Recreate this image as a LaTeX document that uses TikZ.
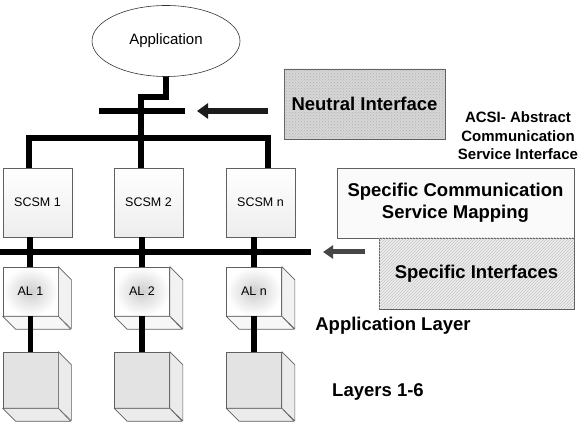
\documentclass[tikz,border=0pt]{standalone}
\usepackage{fontspec}
\setmainfont{Liberation Sans}
\usetikzlibrary{arrows.meta,shapes.geometric,patterns}
\begin{document}
\begin{tikzpicture}[x=1pt,y=-1pt,
  bus/.style={line width=5.5pt, line join=miter},
  box/.style={draw=gray!75!black, line width=0.6pt, inner sep=0pt},
  face/.style={draw=gray!75!black, line width=0.6pt, line join=round},
  fatarrow/.style={line width=6pt, -{Triangle[width=15pt,length=11pt]}},
  lbl/.style={font=\bfseries\fontsize{18.5}{22}\selectfont, align=center},
  jdot/.style={circle, fill=black, inner sep=0pt, minimum size=9pt}]
\useasboundingbox (0,0) rectangle (579,438);

% application
\node[ellipse, draw=gray!40!black, line width=0.6pt, minimum width=148pt, minimum height=71pt,
      font=\fontsize{15}{18}\selectfont] (app) at (166,41) {Application};

% SCSM boxes
\foreach \i/\cx/\t in {1/37.5/1, 2/148.5/2, 3/260.5/n} {
  \node[box, minimum width=69pt, minimum height=69pt, top color=white, bottom color=gray!14,
        font=\fontsize{12.5}{15}\selectfont] (scsm\i) at (\cx,202.5) {SCSM \t};
}

% AL cubes
\foreach \i/\cx/\t in {1/30.5/1, 2/142/2, 3/254/n} {
  \node[box, minimum width=55pt, minimum height=49pt, inner color=gray!38, outer color=white,
        font=\fontsize{12.5}{15}\selectfont] (al\i) at (\cx,291.5) {AL \t};
  \filldraw[face, fill=gray!10] (al\i.north east) -- ++(13,13) -- ++(0,49) -- (al\i.south east) -- cycle;
  \filldraw[face, fill=gray!6] (al\i.south west) -- ++(13,13) -- ++(55,0) -- (al\i.south east) -- cycle;
}

% lower cubes
\foreach \i/\cx in {1/30.5, 2/142, 3/254} {
  \node[box, minimum width=55pt, minimum height=56pt, fill=gray!22] (low\i) at (\cx,380) {};
  \filldraw[face, fill=gray!16] (low\i.north east) -- ++(13,13) -- ++(0,56) -- (low\i.south east) -- cycle;
  \filldraw[face, fill=gray!16] (low\i.south west) -- ++(13,13) -- ++(55,0) -- (low\i.south east) -- cycle;
}

% neutral bus and connection to application
\coordinate (k1) at (166,97);
\coordinate (k2) at (141,97);
\coordinate (nb1) at (99,111);
\coordinate (nb2) at (185,111);
\coordinate (sbj) at (141,138);
\coordinate (sb1) at (29,138);
\coordinate (sb3) at (268,138);
\draw[bus] (nb1) -- (nb2);
\draw[bus] (app.south) -- (k1) -- (k2) -- (sbj);
\node[jdot] (nbdot) at (141,111) {};
\draw[bus] (sb1 |- scsm1.north) -- (sb1) -- (sb3) -- (sb3 |- scsm3.north);
\draw[bus] (sbj) -- (sbj |- scsm2.north);

% lower bus
\coordinate (lb1) at (0,252);
\coordinate (lb2) at (311,252);
\draw[bus] (lb1) -- (lb2);
\foreach \i/\cx in {1/30, 2/142, 3/254} {
  \node[jdot] (ld\i) at (\cx,252) {};
  \draw[bus] (scsm\i.south -| ld\i) -- (al\i.north -| ld\i);
  \draw[bus] (al\i.south) -- (low\i.north);
}

% right side
\node[box, minimum width=161pt, minimum height=70pt, fill=gray!32,
      postaction={pattern=crosshatch dots, pattern color=gray!60}, lbl] (neutral) at (364.5,104) {Neutral Interface};
\node[font=\bfseries\fontsize{15}{18.5}\selectfont, align=center] (acsi) at (518,136)
      {ACSI- Abstract\\Communication\\Service Interface};
\node[box, minimum width=237pt, minimum height=70pt, fill=gray!4, lbl] (scm) at (455.5,203)
      {Specific Communication\\Service Mapping};
\node[box, minimum width=195pt, minimum height=71pt, fill=gray!14,
      postaction={pattern=north east lines, pattern color=gray!45}, lbl] (spec) at (476.5,273.5) {Specific Interfaces};

% arrows
\coordinate (a1s) at (268,111);
\coordinate (a1e) at (197,111);
\draw[fatarrow, draw=gray!22!black] (a1s) -- (a1e);
\coordinate (a2s) at (365,252);
\coordinate (a2e) at (323,252);
\draw[line width=5pt, draw=gray!55!black, -{Triangle[width=13pt,length=10pt]}] (a2s) -- (a2e);

% labels
\node[lbl] (applayer) at (393,326) {Application Layer};
\node[lbl] (layers) at (378,392) {Layers 1-6};
\end{tikzpicture}
\end{document}
